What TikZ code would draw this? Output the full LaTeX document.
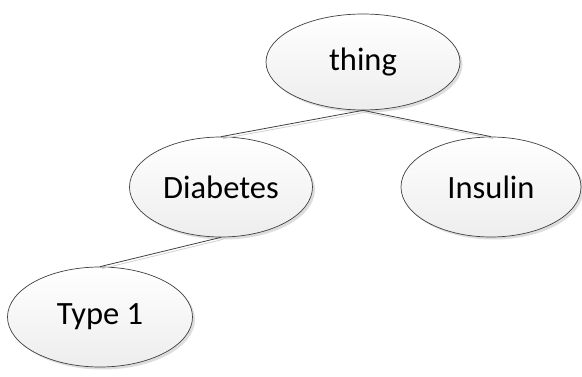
\documentclass[tikz,border=0pt]{standalone}
\usepackage{fontspec}
\setmainfont{Carlito}
\usetikzlibrary{shapes.geometric,shadows}
\tikzset{
  concept/.style={ellipse, draw=black!75, line width=0.7pt,
    top color=white, bottom color=black!7, inner sep=0pt,
    font=\fontsize{32.5}{38}\selectfont,
    drop shadow={shadow xshift=2.5pt, shadow yshift=-2.5pt, fill=black!22, opacity=0.6}},
  link/.style={draw=black!75, line width=0.8pt},
  linkshadow/.style={draw=black!18, line width=0.8pt}
}
\begin{document}
\begin{tikzpicture}[x=1pt,y=1pt]
  \useasboundingbox[fill=white] (0,0) rectangle (582,376);
  % concept nodes
  \node[concept, minimum width=194pt, minimum height=96pt] (thing) at (363,314) {thing};
  \node[concept, minimum width=183pt, minimum height=100pt] (diab) at (221,189) {Diabetes};
  \node[concept, minimum width=180pt, minimum height=100pt] (ins) at (491,189) {Insulin};
  \node[concept, minimum width=185pt, minimum height=100pt] (t1) at (100,59) {Type 1};
  % connectors with their faint shadow strokes
  \begin{scope}[transform canvas={shift={(2pt,-2pt)}}]
    \draw[linkshadow] (thing.south) -- (diab.north);
    \draw[linkshadow] (thing.south) -- (ins.north);
    \draw[linkshadow] (diab.south) -- (t1.north);
  \end{scope}
  \draw[link] (thing.south) -- (diab.north);
  \draw[link] (thing.south) -- (ins.north);
  \draw[link] (diab.south) -- (t1.north);
\end{tikzpicture}
\end{document}
